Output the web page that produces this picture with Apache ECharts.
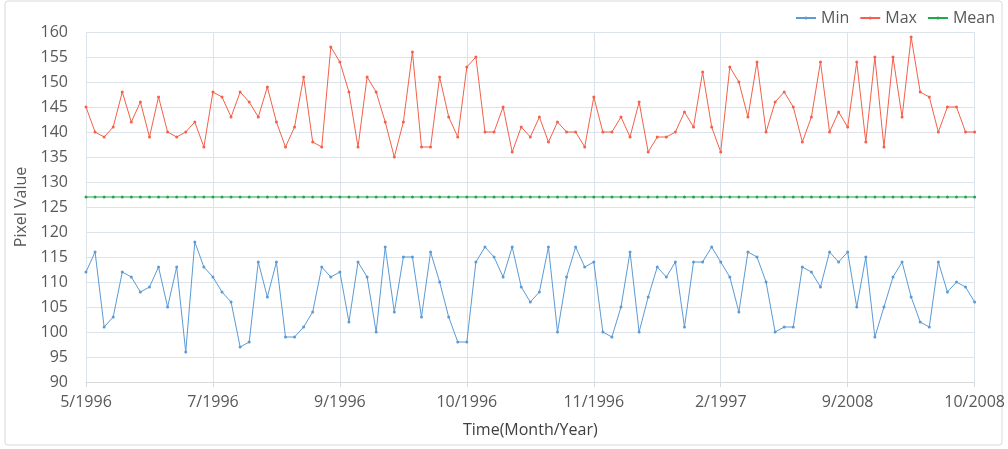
<!DOCTYPE html>
<html lang="en">
<head>
    <meta charset="UTF-8">
    <title>Pixel Value</title>
    <style>
        html, body {margin: 0; padding: 0; background: #fff;}
        #main {width: 1008px; height: 449px;}
    </style>
</head>
<body>
<div id="main"></div>
<script src="https://cdn.jsdelivr.net/npm/echarts@6/dist/echarts.min.js"></script>
<script>
    // 99 samples, a tick label every 14th
    let tickLabels = ['5/1996', '7/1996', '9/1996', '10/1996', '11/1996', '2/1997', '9/2008', '10/2008'];
    let minValues  = [112, 116, 101, 103, 112, 111, 108, 109, 113, 105, 113, 96, 118, 113, 111, 108, 106, 97, 98, 114, 107, 114, 99, 99, 101, 104,
                      113, 111, 112, 102, 114, 111, 100, 117, 104, 115, 115, 103, 116, 110, 103, 98, 98, 114, 117, 115, 111, 117, 109, 106, 108,
                      117, 100, 111, 117, 113, 114, 100, 99, 105, 116, 100, 107, 113, 111, 114, 101, 114, 114, 117, 114, 111, 104, 116, 115, 110,
                      100, 101, 101, 113, 112, 109, 116, 114, 116, 105, 115, 99, 105, 111, 114, 107, 102, 101, 114, 108, 110, 109, 106];
    let maxValues  = [145, 140, 139, 141, 148, 142, 146, 139, 147, 140, 139, 140, 142, 137, 148, 147, 143, 148, 146, 143, 149, 142, 137, 141, 151, 138, 137,
                      157, 154, 148, 137, 151, 148, 142, 135, 142, 156, 137, 137, 151, 143, 139, 153, 155, 140, 140, 145, 136, 141, 139,
                      143, 138, 142, 140, 140, 137, 147, 140, 140, 143, 139, 146, 136, 139, 139, 140, 144, 141, 152, 141, 136, 153, 150, 143, 154,
                      140, 146, 148, 145, 138, 143, 154, 140, 144, 141, 154, 138, 155, 137, 155, 143, 159, 148, 147, 140, 145, 145, 140, 140];
    let meanValue  = 127;
    let meanValues = minValues.map(function () { return meanValue; });

    let categories = minValues.map(function (v, i) {
        return i % 14 === 0 ? tickLabels[i / 14] : '';
    });

    let chart  = echarts.init(document.getElementById('main'));
    let font   = '"Open Sans", "Noto Sans", sans-serif';
    let option = {
        backgroundColor: '#fff',
        textStyle: {fontFamily: font},
        graphic: [{
            type : 'rect',
            shape: {x: 5, y: 1, width: 997, height: 444, r: 3},
            style: {fill: 'none', stroke: '#d9d9d9', lineWidth: 1},
            z    : -1
        }],
        legend : {
            right     : 8,
            top       : 5,
            itemWidth : 20,
            itemHeight: 4,
            itemGap   : 10,
            textStyle : {fontSize: 16, color: '#595959', fontFamily: font},
            data      : ['Min', 'Max', 'Mean']
        },
        grid   : {left: 86, right: 33, top: 32, bottom: 67},
        xAxis  : {
            type       : 'category',
            data       : categories,
            boundaryGap: false,
            name       : 'Time(Month/Year)',
            nameLocation: 'middle',
            nameGap    : 40,
            nameTextStyle: {fontSize: 16, color: '#404040', fontFamily: font},
            axisLine   : {lineStyle: {color: '#d9d9d9'}},
            axisTick   : {show: true, interval: 13, length: 5, lineStyle: {color: '#d9d9d9'}},
            axisLabel  : {interval: 13, fontSize: 16, color: '#595959', margin: 12, fontFamily: font},
            splitLine  : {show: true, interval: 13, lineStyle: {color: '#dde3ea'}}
        },
        yAxis  : {
            type     : 'value',
            min      : 90,
            max      : 160,
            interval : 5,
            name     : 'Pixel Value',
            nameLocation: 'middle',
            nameGap  : 56,
            nameTextStyle: {fontSize: 16, color: '#595959', fontFamily: font},
            axisLine : {show: false},
            axisTick : {show: false},
            axisLabel: {fontSize: 16, color: '#595959', margin: 18, fontFamily: font},
            splitLine: {lineStyle: {color: '#dde3ea'}}
        },
        series : [
            {
                name      : 'Min',
                type      : 'line',
                data      : minValues,
                symbol    : 'circle',
                symbolSize: 3,
                itemStyle : {color: '#5b9bd5'},
                lineStyle : {width: 1, color: '#5b9bd5'}
            },
            {
                name      : 'Max',
                type      : 'line',
                data      : maxValues,
                symbol    : 'circle',
                symbolSize: 3,
                itemStyle : {color: '#f4604a'},
                lineStyle : {width: 1, color: '#f4604a'}
            },
            {
                name      : 'Mean',
                type      : 'line',
                data      : meanValues,
                symbol    : 'circle',
                symbolSize: 3,
                itemStyle : {color: '#21a84a'},
                lineStyle : {width: 1, color: '#21a84a'}
            }
        ]
    };
    chart.setOption(option);
</script>
</body>
</html>
